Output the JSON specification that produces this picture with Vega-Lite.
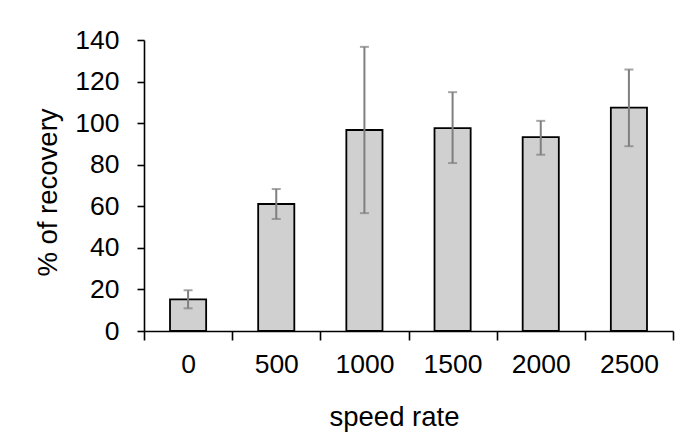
{
  "$schema": "https://vega.github.io/schema/vega-lite/v6.json",
  "width": 529,
  "height": 291,
  "autosize": {"type": "none"},
  "padding": {"left": 144, "top": 40, "right": 11, "bottom": 104},
  "background": "white",
  "config": {
    "view": {"stroke": null},
    "font": "Liberation Sans",
    "axis": {
      "labelFont": "Liberation Sans",
      "titleFont": "Liberation Sans",
      "labelColor": "#000000",
      "titleColor": "#000000",
      "titleFontWeight": "normal",
      "domainColor": "#000000",
      "tickColor": "#000000",
      "domainWidth": 1.6,
      "tickWidth": 1.6,
      "grid": false
    }
  },
  "data": {
    "values": [
      {"speed": "0", "recovery": 15.2, "lo": 10.9, "hi": 19.6},
      {"speed": "500", "recovery": 61.1, "lo": 53.9, "hi": 68.3},
      {"speed": "1000", "recovery": 96.7, "lo": 56.7, "hi": 136.7},
      {"speed": "1500", "recovery": 97.6, "lo": 80.8, "hi": 114.9},
      {"speed": "2000", "recovery": 93.3, "lo": 84.8, "hi": 101.1},
      {"speed": "2500", "recovery": 107.5, "lo": 88.9, "hi": 125.8}
    ]
  },
  "encoding": {
    "x": {
      "field": "speed",
      "type": "nominal",
      "sort": null,
      "scale": {"paddingInner": 0, "paddingOuter": 0},
      "axis": {
        "title": "speed rate",
        "labelAngle": 0,
        "labelFontSize": 26.5,
        "titleFontSize": 27.5,
        "tickSize": 9,
        "tickBand": "extent",
        "labelPadding": 11,
        "titlePadding": 26,
        "titleX": 250
      }
    }
  },
  "layer": [
    {
      "mark": {"type": "bar", "fill": "#d0d0d0", "stroke": "#000000", "strokeWidth": 1.8, "width": {"band": 0.41}},
      "encoding": {
        "y": {
          "field": "recovery",
          "type": "quantitative",
          "scale": {"domain": [0, 140], "nice": false},
          "axis": {
            "title": "% of recovery",
            "values": [0, 20, 40, 60, 80, 100, 120, 140],
            "labelFontSize": 26.5,
            "titleFontSize": 27.5,
            "tickSize": 7,
            "labelPadding": 18,
            "titlePadding": 12,
            "titleY": 152
          }
        }
      }
    },
    {
      "mark": {"type": "rule", "color": "#7f7f7f", "strokeWidth": 2},
      "encoding": {
        "y": {"field": "lo", "type": "quantitative"},
        "y2": {"field": "hi"}
      }
    },
    {
      "mark": {"type": "tick", "color": "#7f7f7f", "thickness": 2, "size": 9, "orient": "horizontal"},
      "encoding": {
        "y": {"field": "hi", "type": "quantitative"}
      }
    },
    {
      "mark": {"type": "tick", "color": "#7f7f7f", "thickness": 2, "size": 9, "orient": "horizontal"},
      "encoding": {
        "y": {"field": "lo", "type": "quantitative"}
      }
    }
  ]
}
